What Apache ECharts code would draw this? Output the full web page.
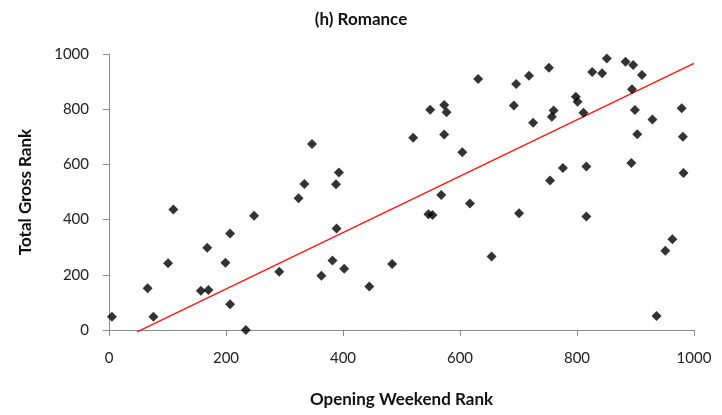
<!DOCTYPE html>
<html>
<head>
<meta charset="utf-8">
<script src="https://cdn.jsdelivr.net/npm/echarts@6/dist/echarts.min.js"></script>
<style>
  html, body { margin: 0; padding: 0; background: #fff; }
  #chart { width: 722px; height: 415px; }
</style>
</head>
<body>
<div id="chart"></div>
<script>
// Opening weekend rank vs. total gross rank, romance titles
const openingRank = [
  5, 66, 76, 101, 110, 157, 170, 168, 199, 207, 207, 234, 248, 291, 324,
  334, 347, 363, 382, 402, 388, 393, 389, 445, 484, 520, 546, 553, 549, 573,
  577, 573, 568, 604, 617, 631, 654, 692, 696, 718, 701, 725, 752, 754, 757,
  760, 776, 798, 801, 811, 816, 816, 826, 843, 851, 883, 896, 911, 894, 899,
  903, 893, 929, 979, 981, 982, 936, 951, 963
];
const grossRank = [
  48, 151, 48, 242, 437, 142, 145, 298, 244, 350, 93, 0, 414, 211, 477,
  529, 674, 197, 252, 222, 528, 571, 368, 158, 239, 697, 419, 417, 798, 815,
  789, 708, 489, 644, 458, 909, 266, 813, 891, 921, 423, 751, 950, 542, 773,
  795, 587, 845, 827, 787, 592, 411, 935, 930, 984, 972, 960, 924, 872, 797,
  709, 605, 763, 803, 700, 569, 51, 287, 329
];
// Linear trend line end points
const trendX = [48, 1000];
const trendY = [-7, 966];

const points = openingRank.map((x, i) => [x, grossRank[i]]);
const trend = trendX.map((x, i) => [x, trendY[i]]);

const font = 'Lato, "Open Sans", sans-serif';
const axisGray = '#8c8c8c';
const plain = v => String(v);

const chart = echarts.init(document.getElementById('chart'));
chart.setOption({
  animation: false,
  backgroundColor: '#ffffff',
  title: {
    text: '(h) Romance',
    left: 'center',
    top: 6,
    textStyle: { fontFamily: font, fontSize: 17, fontWeight: 'bold', color: '#111' }
  },
  grid: { left: 109, right: 28, top: 54, bottom: 85 },
  xAxis: {
    type: 'value',
    min: 0, max: 1000, interval: 200,
    name: 'Opening Weekend Rank',
    nameLocation: 'middle',
    nameGap: 61,
    nameTextStyle: { fontFamily: font, fontSize: 17, fontWeight: 'bold', color: '#111' },
    axisLine: { show: true, lineStyle: { color: axisGray, width: 1 } },
    axisTick: { show: true, length: 6, lineStyle: { color: axisGray } },
    axisLabel: { fontFamily: font, fontSize: 15, color: '#222', margin: 21, formatter: plain },
    splitLine: { show: false }
  },
  yAxis: {
    type: 'value',
    min: 0, max: 1000, interval: 200,
    name: 'Total Gross Rank',
    nameLocation: 'middle',
    nameGap: 75,
    nameRotate: 90,
    nameTextStyle: { fontFamily: font, fontSize: 17, fontWeight: 'bold', color: '#111' },
    axisLine: { show: true, lineStyle: { color: axisGray, width: 1 } },
    axisTick: { show: true, length: 6, lineStyle: { color: axisGray } },
    axisLabel: { fontFamily: font, fontSize: 15, color: '#222', margin: 20, formatter: plain },
    splitLine: { show: false }
  },
  series: [
    {
      type: 'line',
      data: trend,
      clip: false,
      symbol: 'none',
      lineStyle: { color: '#ff1a1a', width: 1.5 },
      z: 1
    },
    {
      type: 'scatter',
      data: points,
      symbol: 'diamond',
      symbolSize: 10,
      clip: false,
      itemStyle: { color: '#000' },
      z: 2
    }
  ]
});
</script>
</body>
</html>
